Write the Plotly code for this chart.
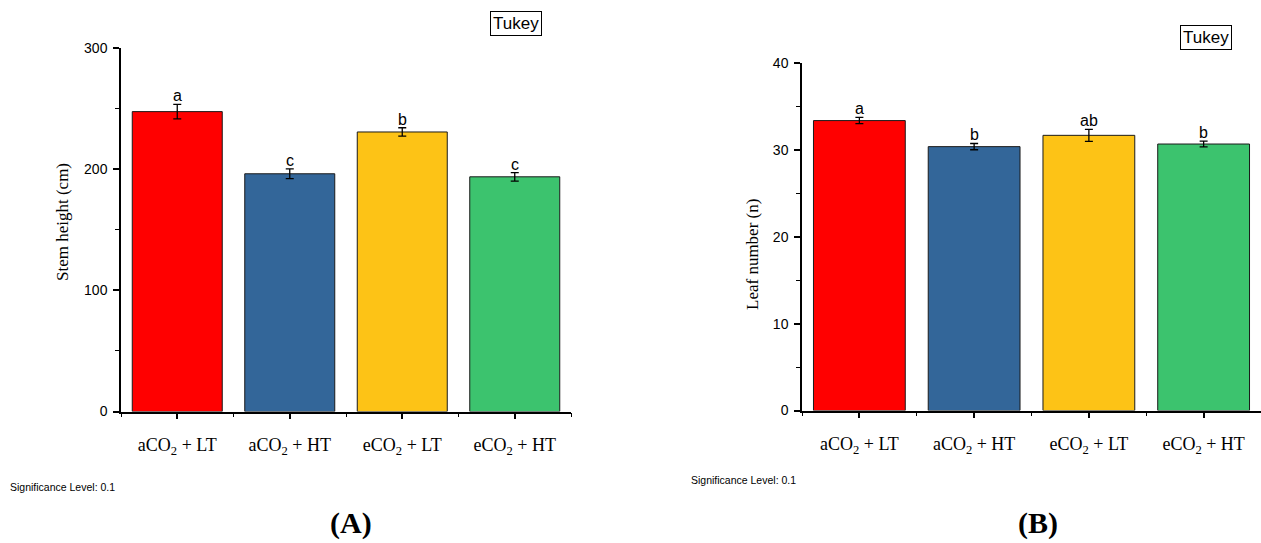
import plotly.graph_objects as go

categories = ["aCO<sub>2</sub> + LT", "aCO<sub>2</sub> + HT", "eCO<sub>2</sub> + LT", "eCO<sub>2</sub> + HT"]
colors = ["#FF0000", "#336699", "#FDC316", "#3CC36E"]

stem_height = [247.5, 196.2, 230.7, 193.7]
stem_err = [6.0, 4.0, 3.5, 3.5]
stem_letters = ["a", "c", "b", "c"]

leaf_number = [33.4, 30.4, 31.7, 30.7]
leaf_err = [0.36, 0.36, 0.69, 0.33]
leaf_letters = ["a", "b", "ab", "b"]

W, H = 1261, 543
xpos = list(range(len(categories)))

fig = go.Figure()

def add_panel(vals, errs, xa, ya):
    fig.add_trace(go.Bar(
        x=xpos, y=vals, width=0.8,
        marker=dict(color=colors, line=dict(color="#1a1a1a", width=1)),
        error_y=dict(type="data", array=errs, visible=True, color="black", thickness=1.3, width=4),
        xaxis=xa, yaxis=ya, showlegend=False, hoverinfo="skip"))

add_panel(stem_height, stem_err, "x", "y")
add_panel(leaf_number, leaf_err, "x2", "y2")

tickfont_num = dict(family="Liberation Sans, Arial", size=14, color="black")
tickfont_cat = dict(family="Liberation Serif, Times New Roman", size=18, color="black")

def xaxis_cfg(domain, anchor):
    return dict(domain=domain, range=[-0.5, 3.5], anchor=anchor, tickmode="array", tickvals=xpos,
                ticktext=categories, automargin=False,
                showline=True, linecolor="black", linewidth=1.5, ticks="outside", ticklen=6,
                tickwidth=1.5, tickcolor="black", tickfont=tickfont_cat, ticklabelstandoff=10,
                showgrid=False, zeroline=False, fixedrange=True,
                minor=dict(ticks="outside", ticklen=4, tickwidth=1, tickcolor="black", tick0=0.5, dtick=1))

def yaxis_cfg(domain, rng, dtick, minor_dtick, anchor):
    return dict(domain=domain, range=rng, dtick=dtick, tick0=0, anchor=anchor, automargin=False,
                showline=True, linecolor="black", linewidth=1.5, ticks="outside", ticklen=6,
                tickwidth=1.5, tickcolor="black", tickfont=tickfont_num, ticklabelstandoff=3,
                showgrid=False, zeroline=False, fixedrange=True,
                minor=dict(ticks="outside", ticklen=4, tickwidth=1, tickcolor="black", dtick=minor_dtick, showgrid=False))

def px_x(p):
    return p / W

def px_y(p):
    return 1 - p / H

fig.update_layout(
    template="none",
    width=W, height=H, autosize=False,
    margin=dict(l=0, r=0, t=0, b=0, pad=0, autoexpand=False),
    paper_bgcolor="white", plot_bgcolor="white",
    xaxis=xaxis_cfg([px_x(121), px_x(571)], "y"),
    yaxis=yaxis_cfg([px_y(411.5), px_y(48)], [0, 300], 100, 50, "x"),
    xaxis2=xaxis_cfg([px_x(802), 1.0], "y2"),
    yaxis2=yaxis_cfg([px_y(410.5), px_y(63.3)], [0, 40], 10, 5, "x2"),
)

annotations = []
letter_font = dict(family="Liberation Sans, Arial", size=16, color="black")
for xr, yr, vals, errs, letters in [("x", "y", stem_height, stem_err, stem_letters),
                                    ("x2", "y2", leaf_number, leaf_err, leaf_letters)]:
    for i, (v, e, l) in enumerate(zip(vals, errs, letters)):
        annotations.append(dict(x=i, y=v + e, xref=xr, yref=yr, text=l, showarrow=False,
                                xanchor="center", yanchor="bottom", font=letter_font, borderpad=0, yshift=-1))

serif = "Liberation Serif, Times New Roman"

def paper_text(x, y, text, font, xanchor="center", **kw):
    return dict(x=px_x(x), y=px_y(y), xref="paper", yref="paper", text=text, showarrow=False,
                xanchor=xanchor, yanchor="middle", font=font, **kw)

annotations += [
    paper_text(62, 222, "Stem height (cm)", dict(family=serif, size=17, color="black"), textangle=-90),
    paper_text(752, 255, "Leaf number (n)", dict(family=serif, size=17, color="black"), textangle=-90),
    paper_text(516, 23, "Tukey", dict(family="Liberation Sans, Arial", size=17, color="black"),
               bordercolor="black", borderwidth=1, borderpad=2, bgcolor="white"),
    paper_text(1206, 37.7, "Tukey", dict(family="Liberation Sans, Arial", size=17, color="black"),
               bordercolor="black", borderwidth=1, borderpad=2, bgcolor="white"),
    paper_text(8, 487, "Significance Level: 0.1", dict(family="Liberation Sans, Arial", size=10.5, color="black"),
               xanchor="left"),
    paper_text(689, 480, "Significance Level: 0.1", dict(family="Liberation Sans, Arial", size=10.5, color="black"),
               xanchor="left"),
    paper_text(351, 523, "<b>(A)</b>", dict(family=serif, size=30, color="black")),
    paper_text(1038, 523, "<b>(B)</b>", dict(family=serif, size=30, color="black")),
]
fig.update_layout(annotations=annotations)

fig.write_html("out.html")
